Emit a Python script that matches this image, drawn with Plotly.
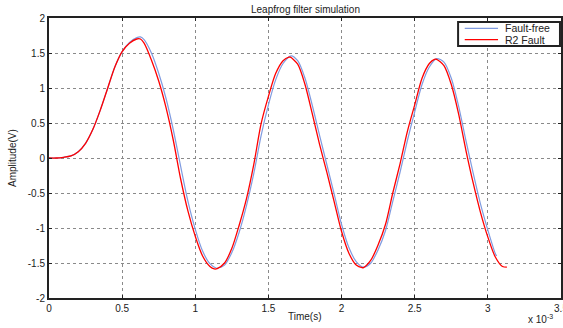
import plotly.graph_objects as go

# time in units of 1e-3 s
t_red = [0, 0.05, 0.10, 0.15, 0.20, 0.25, 0.30, 0.35, 0.40, 0.45, 0.50, 0.55, 0.60, 0.625, 0.65, 0.70,
         0.75, 0.80, 0.85, 0.90, 0.95, 1.00, 1.05, 1.10, 1.13, 1.15, 1.20, 1.25, 1.30, 1.35, 1.40, 1.45,
         1.50, 1.55, 1.60, 1.64, 1.65, 1.70, 1.75, 1.80, 1.85, 1.90, 1.95, 2.00, 2.05, 2.10, 2.14, 2.15,
         2.20, 2.25, 2.30, 2.35, 2.40, 2.45, 2.50, 2.55, 2.60, 2.635, 2.65, 2.70, 2.75, 2.80, 2.85, 2.90,
         2.95, 3.00, 3.05, 3.10, 3.13]
y_red = [0, 0.0, 0.01, 0.03, 0.09, 0.21, 0.41, 0.68, 0.99, 1.30, 1.52, 1.64, 1.70, 1.70, 1.64, 1.40,
         1.10, 0.72, 0.25, -0.30, -0.76, -1.12, -1.40, -1.55, -1.585, -1.58, -1.50, -1.29, -0.96, -0.58, -0.09, 0.49,
         0.88, 1.21, 1.39, 1.44, 1.44, 1.34, 1.05, 0.63, 0.19, -0.21, -0.63, -1.05, -1.36, -1.53, -1.567, -1.565,
         -1.46, -1.24, -0.95, -0.50, -0.08, 0.38, 0.76, 1.14, 1.35, 1.41, 1.41, 1.32, 1.05, 0.63, 0.11, -0.36,
         -0.78, -1.13, -1.41, -1.55, -1.56]

t_blue = [0, 0.05, 0.10, 0.15, 0.20, 0.25, 0.30, 0.35, 0.40, 0.45, 0.50, 0.55, 0.60, 0.625, 0.65, 0.70,
          0.75, 0.80, 0.85, 0.90, 0.95, 1.00, 1.05, 1.10, 1.145, 1.15, 1.20, 1.25, 1.30, 1.35, 1.40, 1.45,
          1.50, 1.55, 1.60, 1.655, 1.70, 1.75, 1.80, 1.85, 1.90, 1.95, 2.00, 2.05, 2.10, 2.15, 2.20, 2.25,
          2.30, 2.35, 2.40, 2.45, 2.50, 2.55, 2.60, 2.65, 2.70, 2.75, 2.80, 2.85, 2.90, 2.95, 3.00, 3.05, 3.06]
y_blue = [0, 0.0, 0.01, 0.03, 0.09, 0.21, 0.41, 0.68, 0.99, 1.30, 1.52, 1.65, 1.72, 1.73, 1.69, 1.50,
          1.21, 0.85, 0.40, -0.12, -0.62, -1.02, -1.33, -1.51, -1.575, -1.575, -1.53, -1.35, -1.06, -0.68, -0.22, 0.32,
          0.76, 1.12, 1.35, 1.46, 1.39, 1.14, 0.75, 0.32, -0.10, -0.52, -0.95, -1.28, -1.48, -1.56, -1.50, -1.31,
          -1.04, -0.62, -0.20, 0.25, 0.66, 1.05, 1.30, 1.42, 1.37, 1.14, 0.74, 0.25, -0.22, -0.66, -1.03, -1.36, -1.40]

series_names = ["Fault-free", "R2 Fault"]
series_colors = ["#7f9be0", "#ff0000"]

x_ticks = [0, 0.5, 1, 1.5, 2, 2.5, 3, 3.5]
x_tick_labels = ["0", "0.5", "1", "1.5", "2", "2.5", "3", "3.5"]
y_ticks = [-2, -1.5, -1, -0.5, 0, 0.5, 1, 1.5, 2]
y_tick_labels = ["-2", "-1.5", "-1", "-0.5", "0", "0.5", "1", "1.5", "2"]

FONT = "Liberation Sans, Arial, sans-serif"
TXT = "#222222"

fig = go.Figure()
fig.add_trace(go.Scatter(x=t_blue, y=y_blue, mode="lines", name=series_names[0], showlegend=False,
                         line=dict(color=series_colors[0], width=1.2, shape="spline", smoothing=0.8)))
fig.add_trace(go.Scatter(x=t_red, y=y_red, mode="lines", name=series_names[1], showlegend=False,
                         line=dict(color=series_colors[1], width=1.3, shape="spline", smoothing=0.8)))

axis_common = dict(showline=True, linecolor=TXT, linewidth=2, mirror="ticks",
                   ticks="inside", ticklen=3, tickcolor=TXT, automargin=False,
                   showgrid=True, gridcolor="#8a8a8a", gridwidth=1, griddash="dot",
                   zeroline=False, tickfont=dict(family=FONT, size=10, color=TXT))

fig.update_xaxes(range=[0, 3.5], tickvals=x_ticks, ticktext=x_tick_labels,
                 ticklabeloverflow="allow", **axis_common)
fig.update_yaxes(range=[-2, 2], tickvals=y_ticks, ticktext=y_tick_labels,
                 ticklabeloverflow="allow", **axis_common)

fig.update_layout(
    width=563, height=328, autosize=False,
    margin=dict(l=49, r=2, t=18, b=30, autoexpand=False),
    paper_bgcolor="white", plot_bgcolor="white",
    showlegend=False,
)

# compact MATLAB-style legend box
fig.add_shape(type="rect", xref="paper", yref="paper", x0=0.799, x1=0.998, y0=0.9, y1=0.986,
              line=dict(color=TXT, width=2), fillcolor="white", layer="above")
for i, (nm, col) in enumerate(zip(series_names, series_colors)):
    yy = 0.963 - i * 0.04
    fig.add_shape(type="line", xref="paper", yref="paper", x0=0.812, x1=0.877, y0=yy, y1=yy,
                  line=dict(color=col, width=1.3), layer="above")
    fig.add_annotation(text=nm, xref="paper", yref="paper", x=0.886, y=yy,
                       xanchor="left", yanchor="middle", showarrow=False,
                       font=dict(family=FONT, size=10.5, color=TXT))

fig.add_annotation(text="Leapfrog filter simulation", xref="paper", yref="paper", x=0.5, y=1.0,
                   xanchor="center", yanchor="bottom", yshift=1, showarrow=False,
                   font=dict(family=FONT, size=10, color=TXT))
fig.add_annotation(text="Time(s)", xref="paper", yref="paper", x=0.5, y=0, yshift=-11,
                   xanchor="center", yanchor="top", showarrow=False,
                   font=dict(family=FONT, size=10, color=TXT))
fig.add_annotation(text="Amplitude(V)", xref="paper", yref="paper", x=0, y=0.5, xshift=-37,
                   xanchor="center", yanchor="middle", textangle=-90, showarrow=False,
                   font=dict(family=FONT, size=10, color=TXT))
fig.add_annotation(text="x 10<sup>-3</sup>", xref="paper", yref="paper", x=0.96, y=0, yshift=-13,
                   xanchor="center", yanchor="top", showarrow=False,
                   font=dict(family=FONT, size=10, color=TXT))

fig.write_html("out.html", config={"displayModeBar": False},
               post_script="document.body.style.margin='0';document.body.style.overflow='hidden';")
